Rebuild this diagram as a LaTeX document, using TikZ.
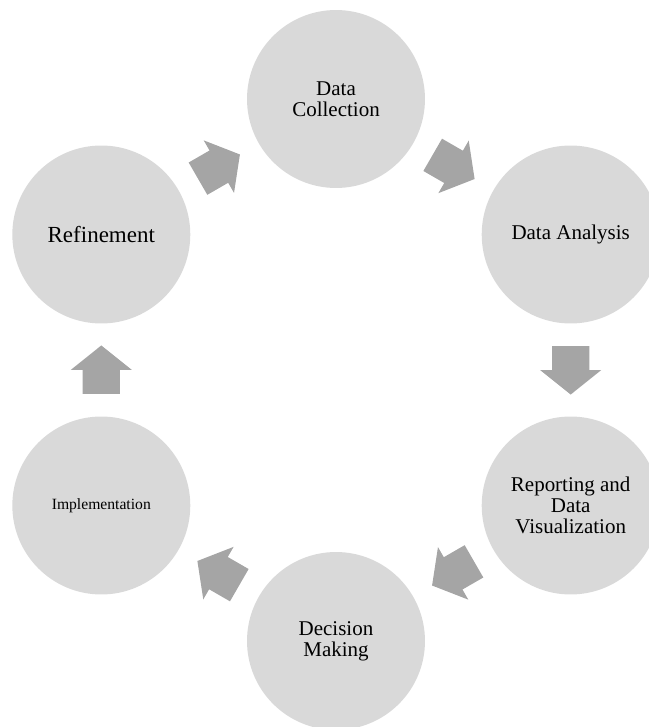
\documentclass[tikz,border=0pt]{standalone}
\usepackage{fontspec}
\setmainfont{Liberation Serif}
\usetikzlibrary{shapes.arrows,calc}

\definecolor{stagegray}{RGB}{217,217,217}
\definecolor{arrowgray}{RGB}{165,165,165}

\begin{document}
\begin{tikzpicture}[x=0.02cm, y=0.02cm,
    stage/.style={circle, fill=stagegray, minimum size=3.56cm, inner sep=0pt, align=center, font=\fontsize{11.95}{12}\selectfont},
    blockarrow/.style={single arrow, fill=arrowgray, minimum height=0.968cm, inner xsep=0pt, inner ysep=0.366cm, single arrow head extend=0.234cm, single arrow tip angle=102.6, anchor=tail}]
    % Define dimensions
    \def\ring{271}

    % Page frame
    \clip (-336,-357) rectangle (313,370);

    % Draw stages
    \node[stage] (collect) at (90:\ring) {Data\\Collection};
    \node[stage] (analyse) at (30:\ring) {Data Analysis};
    \node[stage] (report) at (-30:\ring) {Reporting and\\Data\\Visualization};
    \node[stage] (decide) at (-90:\ring) {Decision\\Making};
    \node[stage, font=\fontsize{8.9}{10}\selectfont] (implement) at (-150:\ring) {Implementation};
    \node[stage, font=\fontsize{13.1}{14}\selectfont] (refine) at (150:\ring) {Refinement};

    %Draw arrows between adjacent stages
    \foreach [remember=\stage as \prevstage (initially refine)] \stage in {collect,analyse,report,decide,implement,refine} {
        \path let \p1=($(\stage)-(\prevstage)$), \n1={atan2(\y1,\x1)} in
            node[blockarrow, rotate=\n1] at ($(\prevstage)!0.5!(\stage)!0.484cm!(\prevstage)$) {};
    }
\end{tikzpicture}
\end{document}
